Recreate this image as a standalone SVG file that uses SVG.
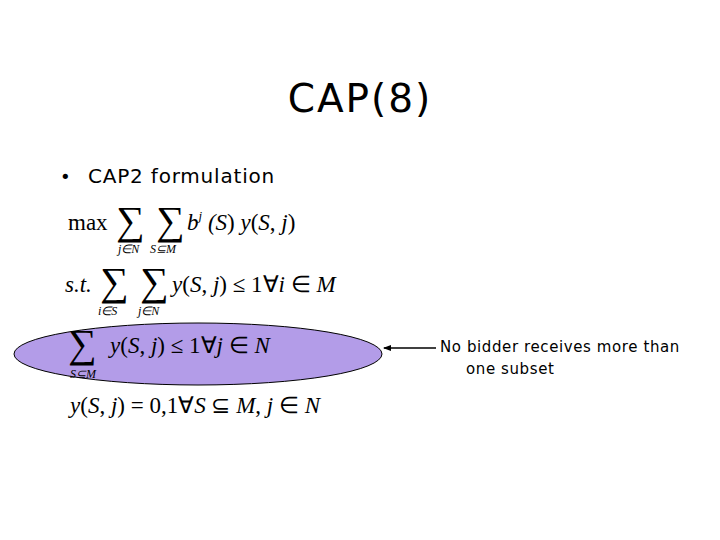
<svg xmlns="http://www.w3.org/2000/svg" width="720" height="540" viewBox="0 0 720 540">
<style>
.s{font-family:"Liberation Serif",serif;font-size:23px}
.i{font-style:italic}
.sig{font-family:"Liberation Serif",serif;font-size:40px}
.sub{font-family:"Liberation Serif",serif;font-size:12px;font-style:italic}
.t{font-family:"DejaVu Sans",sans-serif;font-size:15px;letter-spacing:0.6px}
</style>
<defs><marker id="a" markerWidth="8" markerHeight="8" refX="7" refY="4" orient="auto" markerUnits="userSpaceOnUse"><path d="M0,1 L8,4 L0,7Z" fill="#000"/></marker></defs>
<rect width="720" height="540" fill="#fff"/>
<text x="360" y="112" text-anchor="middle" font-family="DejaVu Sans,sans-serif" font-size="39" letter-spacing="2">CAP(8)</text>
<text x="60" y="183" font-family="DejaVu Sans,sans-serif" font-size="18">•</text>
<text x="88" y="183" font-family="DejaVu Sans,sans-serif" font-size="20" letter-spacing="0.8">CAP2 formulation</text>
<g id="oval"><ellipse cx="198" cy="354" rx="184" ry="31" fill="#b39ce8" stroke="#000" stroke-width="1"/></g>
<g id="f1">
<text x="68" y="230" class="s">max</text>
<text x="116" y="234" class="sig">∑</text><text x="156" y="234" class="sig">∑</text>
<text x="118" y="253" class="sub">j∈N</text><text x="150" y="253" class="sub">S⊆M</text>
<text x="187" y="230" class="s i">b<tspan font-size="13" dy="-10">j</tspan><tspan dy="10"> (</tspan>S<tspan font-style="normal">)</tspan> y<tspan font-style="normal">(</tspan>S<tspan font-style="normal">, </tspan>j<tspan font-style="normal">)</tspan></text>
</g>
<g id="f2">
<text x="65" y="292" class="s i">s.t.</text>
<text x="100" y="295" class="sig">∑</text><text x="140" y="295" class="sig">∑</text>
<text x="98" y="315" class="sub">i∈S</text><text x="138" y="315" class="sub">j∈N</text>
<text x="172" y="292" class="s i">y<tspan font-style="normal">(</tspan>S<tspan font-style="normal">, </tspan>j<tspan font-style="normal">) ≤ 1∀</tspan>i<tspan font-style="normal"> ∈ </tspan>M</text>
</g>
<g id="f3">
<text x="68" y="357" class="sig">∑</text>
<text x="70" y="378" class="sub">S⊆M</text>
<text x="110" y="353" class="s i">y<tspan font-style="normal">(</tspan>S<tspan font-style="normal">, </tspan>j<tspan font-style="normal">) ≤ 1∀</tspan>j<tspan font-style="normal"> ∈ </tspan>N</text>
</g>
<g id="f4">
<text x="70" y="413" class="s i">y<tspan font-style="normal">(</tspan>S<tspan font-style="normal">, </tspan>j<tspan font-style="normal">) = 0,1∀</tspan>S<tspan font-style="normal"> ⊆ </tspan>M<tspan font-style="normal">, </tspan>j<tspan font-style="normal"> ∈ </tspan>N</text>
</g>
<g id="connectors"><line x1="436" y1="348" x2="384" y2="348" stroke="#000" stroke-width="1.5" marker-end="url(#a)"/></g>
<g id="note">
<text x="440" y="352" class="t">No bidder receives more than</text>
<text x="466" y="374" class="t">one subset</text>
</g>
</svg>
